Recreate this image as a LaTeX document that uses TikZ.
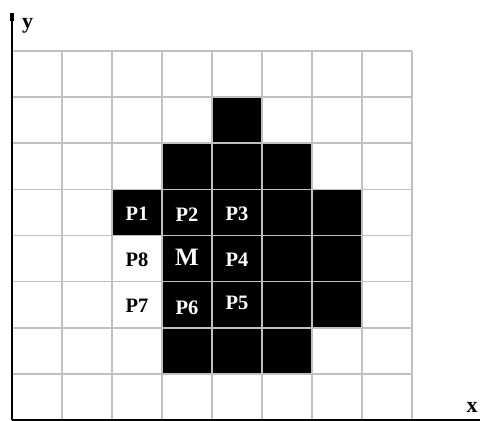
\documentclass[tikz,border=0pt]{standalone}
\usepackage{fontspec}
\setmainfont{Liberation Serif}
\usepackage{tikz}
\usetikzlibrary{arrows.meta, positioning}
\definecolor{gridgray}{RGB}{192,192,192}
\tikzset{
  gridline/.style={draw=gridgray, line width=1.6pt},
  cell/.style={fill=black},
  axis/.style={draw=black, line width=2pt},
  wlabel/.style={text=white, font=\fontsize{20.5}{20.5}\selectfont\bfseries, inner sep=0pt},
  blabel/.style={text=black, font=\fontsize{20.5}{20.5}\selectfont\bfseries, inner sep=0pt},
  axislabel/.style={font=\fontsize{22}{22}\selectfont\bfseries, inner sep=0pt}
}

\begin{document}
\begin{tikzpicture}[x=1pt, y=-1pt]
    \useasboundingbox (0,0) rectangle (480,421);
    % black cells (column/row, counted from the top left)
    \foreach \c/\r in {4/1, 3/2, 4/2, 5/2, 2/3, 3/3, 4/3, 5/3, 6/3,
                       3/4, 4/4, 5/4, 6/4, 3/5, 4/5, 5/5, 6/5, 3/6, 4/6, 5/6}
      \fill[cell] ({12+50*\c},{51+46.125*\r}) rectangle ++(50,46.125);
    % grid
    \foreach \i in {1,...,8}
      \draw[gridline] ({12+50*\i},51) -- ({12+50*\i},420);
    \foreach \j in {0,...,7}
      \draw[gridline] (12,{51+46.125*\j}) -- (412,{51+46.125*\j});
    % axes
    \coordinate (origin) at (12,420);
    \coordinate (ytip) at (12,13);
    \coordinate (xtip) at (480,420);
    \draw[axis, -{Rectangle[length=8pt, width=4pt]}] (origin) -- (ytip);
    \draw[black, line width=1.2pt, -{Rectangle[length=13pt, width=3pt]}] (origin) -- (xtip);
    \node[axislabel, anchor=north west] (ylab) at (22,18) {y};
    \node[axislabel, anchor=south] (xlab) at (472,413) {x};
    % pixel labels
    \node[wlabel] (pone) at (137,214) {P1};
    \node[wlabel] (ptwo) at (187,215) {P2};
    \node[wlabel] (pthree) at (237,214) {P3};
    \node[blabel] (peight) at (137,260) {P8};
    \node[wlabel, font=\fontsize{25}{25}\selectfont\bfseries] (m) at (187,257) {M};
    \node[wlabel] (pfour) at (237,260) {P4};
    \node[blabel] (pseven) at (137,306) {P7};
    \node[wlabel] (psix) at (187,308) {P6};
    \node[wlabel] (pfive) at (237,303) {P5};
  \end{tikzpicture}
\end{document}
